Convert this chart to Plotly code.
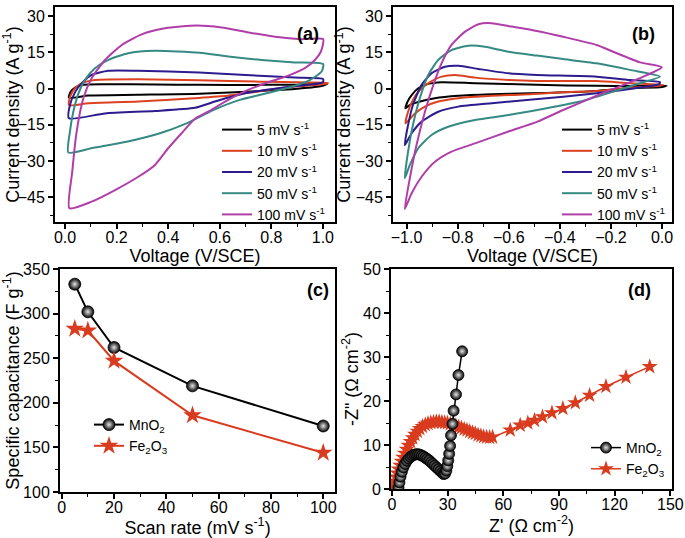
import plotly.graph_objects as go

W, H = 685, 538
FONT = "Liberation Sans, Arial, sans-serif"

# ── Panel (a): MnO2 CV loops (V vs SCE, A/g) ────────────────────────────────
a_v_5 = [0.015, 0.022, 0.039, 0.065, 0.155, 0.35, 0.52, 0.76, 0.90, 1.016,
         0.99, 0.89, 0.76, 0.52, 0.28, 0.09, 0.015]
a_i_5 = [-3.8, -1.3, 0.4, 1.5, 1.8, 1.7, 1.5, 1.5, 1.6, 1.8,
         0.9, -0.2, -1.0, -2.2, -2.6, -2.9, -3.8]

a_v_10 = [0.015, 0.022, 0.039, 0.065, 0.116, 0.284, 0.52, 0.76, 0.95, 1.02,
          0.99, 0.89, 0.76, 0.63, 0.50, 0.284, 0.09, 0.015]
a_i_10 = [-6.8, -2.7, 0.1, 2.2, 3.5, 3.8, 3.4, 2.8, 2.5, 2.3,
          1.6, 0.8, -1.0, -3.0, -4.0, -5.4, -6.1, -6.8]

a_v_20 = [0.015, 0.019, 0.039, 0.065, 0.103, 0.168, 0.284, 0.52, 0.70, 0.89, 1.001,
          1.0, 0.943, 0.827, 0.698, 0.581, 0.504, 0.349, 0.155, 0.015]
a_i_20 = [-12.3, -6.8, -1.5, 2.2, 5.6, 7.3, 7.3, 6.6, 5.6, 4.5, 3.9,
          2.6, 1.5, 0.1, -2.0, -5.4, -8.0, -9.3, -10.3, -12.3]

a_v_50 = [0.013, 0.019, 0.032, 0.052, 0.077, 0.116, 0.168, 0.245, 0.349, 0.523,
          0.633, 0.762, 0.891, 1.001, 0.995, 0.949, 0.872, 0.782, 0.678, 0.575,
          0.471, 0.368, 0.239, 0.11, 0.013]
a_i_50 = [-26.5, -17.8, -9.6, -2.0, 3.5, 8.4, 11.8, 14.6, 15.6, 14.8,
          13.2, 11.8, 10.8, 10.1, 7.0, 3.5, 0.5, -2.0, -4.7, -8.9,
          -14.4, -18.5, -22.0, -24.5, -26.5]

a_v_100 = [0.017, 0.028, 0.045, 0.071, 0.103, 0.155, 0.22, 0.297, 0.388, 0.51,
           0.607, 0.711, 0.814, 0.917, 1.001, 0.992, 0.969, 0.93, 0.866, 0.788,
           0.71, 0.633, 0.555, 0.504, 0.452, 0.40, 0.349, 0.284, 0.194, 0.103, 0.017]
a_i_100 = [-49.5, -34.4, -17.8, -4.0, 4.2, 11.8, 18.0, 22.4, 24.9, 26.0,
           25.2, 23.2, 21.4, 20.4, 20.4, 15.2, 11.8, 8.4, 5.3, 2.6,
           -0.6, -4.7, -9.6, -12.5, -18.5, -24.7, -31.6, -36.5, -42.0, -46.8, -49.5]

# ── Panel (b): Fe2O3 CV loops ───────────────────────────────────────────────
b_v_5 = [-1.004, -0.996, -0.98, -0.954, -0.915, -0.863, -0.732, -0.49, -0.256, -0.1, 0.018,
         0.0, -0.126, -0.256, -0.387, -0.518, -0.667, -0.797, -0.889, -0.954, -0.987, -1.004]
b_i_5 = [-8.2, -5.4, -2.7, 0.1, 1.9, 2.6, 2.2, 1.5, 1.1, 1.0, 1.2,
         0.6, 0.1, -1.0, -1.6, -2.0, -2.4, -3.0, -4.0, -5.6, -6.8, -8.2]

b_v_10 = [-1.004, -0.994, -0.975, -0.948, -0.908, -0.863, -0.81, -0.732, -0.601, -0.49,
          -0.256, -0.126, 0.005, -0.01, -0.126, -0.256, -0.387, -0.518, -0.667, -0.797,
          -0.876, -0.928, -0.967, -1.004]
b_i_10 = [-14.4, -9.6, -4.7, -0.6, 2.6, 4.9, 5.6, 4.5, 3.5, 3.1,
          3.1, 2.2, 1.5, 1.1, 0.3, -1.0, -1.6, -2.4, -3.0, -4.0,
          -5.4, -7.5, -10.3, -14.4]

b_v_20 = [-1.007, -0.994, -0.975, -0.941, -0.902, -0.85, -0.797, -0.719, -0.601, -0.49,
          -0.256, -0.126, -0.008, -0.012, -0.126, -0.256, -0.387, -0.518, -0.667, -0.797,
          -0.876, -0.941, -0.98, -1.007]
b_i_20 = [-23.4, -15.1, -6.8, 1.5, 6.3, 9.0, 9.4, 8.1, 6.3, 5.6,
          4.9, 3.5, 2.6, 1.8, -0.2, -2.0, -3.4, -4.7, -6.1, -7.5,
          -9.6, -13.7, -18.5, -23.4]

b_v_50 = [-1.007, -0.994, -0.975, -0.948, -0.915, -0.876, -0.824, -0.758, -0.693, -0.601,
          -0.49, -0.387, -0.256, -0.126, -0.008, -0.086, -0.191, -0.321, -0.452, -0.601,
          -0.732, -0.837, -0.902, -0.954, -0.987, -1.007]
b_i_50 = [-37.1, -26.1, -15.1, -4.0, 5.6, 11.8, 15.9, 17.7, 17.3, 15.2,
          13.6, 12.2, 10.4, 7.7, 4.9, 2.2, -1.3, -5.4, -8.2, -11.0,
          -13.0, -15.8, -19.2, -24.7, -31.6, -37.1]

b_v_100 = [-1.007, -0.987, -0.961, -0.928, -0.895, -0.863, -0.824, -0.771, -0.719, -0.667,
           -0.588, -0.49, -0.387, -0.256, -0.191, -0.086, -0.001, -0.073, -0.151, -0.256,
           -0.387, -0.49, -0.601, -0.732, -0.824, -0.889, -0.941, -0.98, -1.007]
b_i_100 = [-49.8, -37.1, -23.4, -9.6, 1.5, 10.4, 18.0, 23.5, 26.6, 27.0,
           25.6, 23.8, 21.4, 18.0, 15.2, 10.8, 8.8, 4.9, 1.5, -3.0,
           -8.9, -13.8, -17.8, -22.7, -26.1, -30.3, -36.5, -43.3, -49.8]

# ── Panel (c): specific capacitance vs scan rate ────────────────────────────
scan_rate = [5, 10, 20, 50, 100]
cap_mno2 = [333, 302, 262, 219, 174]
cap_fe2o3 = [283, 281, 247, 186, 144]

# ── Panel (d): Nyquist plots ────────────────────────────────────────────────
z_re_mno2 = [3.5, 4.0, 4.6, 5.3, 6.1, 7.0, 8.0, 9.0, 10.0, 11.0, 12.0, 13.0, 14.0,
             15.0, 16.0, 17.0, 18.0, 19.0, 20.0, 21.0, 22.0, 23.0, 24.0, 25.0,
             26.0, 27.0, 27.8, 28.6, 29.3, 29.8, 30.3, 30.8, 31.3, 31.8, 32.6,
             33.2, 34.5, 35.8, 37.8]
z_im_mno2 = [0.3, 1.5, 2.8, 3.9, 4.9, 5.7, 6.4, 6.9, 7.3, 7.6, 7.8, 7.9, 7.9,
             7.8, 7.6, 7.4, 7.1, 6.8, 6.5, 6.1, 5.7, 5.3, 4.9, 4.5,
             4.1, 3.7, 3.4, 3.5, 4.2, 5.2, 6.5, 8.0, 9.8, 12.2, 14.8,
             17.8, 21.5, 25.9, 31.3]

z_re_fe2o3 = [0.5, 1.0, 1.6, 2.2, 2.9, 3.6, 4.4, 5.2, 6.0, 6.9, 7.9, 8.9, 10.0,
              11.2, 12.4, 13.7, 15.0, 16.4, 17.9, 19.4, 20.9, 22.4, 23.9, 25.4,
              26.9, 28.4, 29.9, 31.4, 32.9, 34.4, 35.9, 37.4, 38.9, 40.4, 41.9,
              43.4, 44.9, 46.4, 47.9, 49.4, 51.0, 52.6, 54.2, 63.7, 69.1, 73.2,
              76.8, 81.1, 86.2, 92.1, 98.8, 106.5, 115.3, 126.1, 138.9]
z_im_fe2o3 = [0.3, 1.0, 1.8, 2.7, 3.6, 4.5, 5.4, 6.3, 7.2, 8.1, 9.0, 9.9, 10.8,
              11.6, 12.4, 13.1, 13.7, 14.2, 14.6, 14.9, 15.1, 15.2, 15.3, 15.3,
              15.2, 15.1, 15.0, 14.8, 14.6, 14.4, 14.1, 13.9, 13.6, 13.4, 13.1,
              12.8, 12.6, 12.3, 12.1, 11.9, 11.8, 11.7, 11.8, 13.4, 14.5, 15.0,
              15.6, 16.4, 17.3, 18.3, 19.6, 21.3, 23.3, 25.4, 27.8]

rate_labels = ['5', '10', '20', '50', '100']
rate_colors = ['#000000', '#dc4120', '#2d1c8e', '#368a83', '#b03ea8']
RED = '#d93b1e'

fig = go.Figure()

cv_a = [(a_v_5, a_i_5), (a_v_10, a_i_10), (a_v_20, a_i_20), (a_v_50, a_i_50), (a_v_100, a_i_100)]
cv_b = [(b_v_5, b_i_5), (b_v_10, b_i_10), (b_v_20, b_i_20), (b_v_50, b_i_50), (b_v_100, b_i_100)]

for k, (lab, col) in enumerate(zip(rate_labels, rate_colors)):
    for (v, i), xa, ya, lg in [(cv_a[k], 'x', 'y', 'legend'), (cv_b[k], 'x2', 'y2', 'legend2')]:
        fig.add_trace(go.Scatter(
            x=v, y=i, mode='lines', xaxis=xa, yaxis=ya,
            line=dict(color=col, width=2, shape='spline', smoothing=0.6),
            name=f'{lab} mV s<sup>-1</sup>', legend=lg, legendgroup=f'{lg}{lab}'))

sphere = dict(symbol='circle', color='black',
              gradient=dict(type='radial', color='#e6e6e6'),
              line=dict(color='black', width=0.8))

fig.add_trace(go.Scatter(x=scan_rate, y=cap_mno2, mode='lines+markers', xaxis='x3', yaxis='y3',
                         line=dict(color='black', width=2), marker=dict(size=12, **sphere),
                         name='MnO<sub>2</sub>', legend='legend3', legendgroup='c1'))
fig.add_trace(go.Scatter(x=scan_rate, y=cap_fe2o3, mode='lines+markers', xaxis='x3', yaxis='y3',
                         line=dict(color=RED, width=2),
                         marker=dict(symbol='star', size=14, color=RED, line=dict(width=0)),
                         name='Fe<sub>2</sub>O<sub>3</sub>', legend='legend3', legendgroup='c2'))

fig.add_trace(go.Scatter(x=z_re_fe2o3, y=z_im_fe2o3, mode='lines+markers', xaxis='x4', yaxis='y4',
                         line=dict(color=RED, width=1.5),
                         marker=dict(symbol='star', size=12, color=RED, line=dict(width=0)),
                         name='Fe<sub>2</sub>O<sub>3</sub>', legend='legend4', legendgroup='d2',
                         legendrank=2))
fig.add_trace(go.Scatter(x=z_re_mno2, y=z_im_mno2, mode='lines+markers', xaxis='x4', yaxis='y4',
                         line=dict(color='black', width=1.5), marker=dict(size=11, **sphere),
                         name='MnO<sub>2</sub>', legend='legend4', legendgroup='d1',
                         legendrank=1))


def axis(domain, rng, dtick, minor, anchor, title, fmt=None, standoff=3, lab_off=0):
    d = dict(domain=domain, range=rng, dtick=dtick, anchor=anchor,
             showline=True, linecolor='black', linewidth=2, mirror=True,
             ticks='outside', ticklen=5, tickwidth=1.5, tickcolor='black',
             showgrid=False, zeroline=False, ticklabelstandoff=lab_off,
             tickfont=dict(size=16, color='black', family=FONT),
             title=dict(text=title, font=dict(size=18, color='black', family=FONT), standoff=standoff),
             minor=dict(ticks='outside', ticklen=3, tickwidth=1.2, tickcolor='black', dtick=minor))
    if fmt:
        d['tickformat'] = fmt
    return d


def px_x(a, b):
    return [a / W, b / W]


def px_y(top, bot):
    return [1 - bot / H, 1 - top / H]


fig.update_layout(
    width=W, height=H, margin=dict(l=0, r=0, t=0, b=0, autoexpand=False),
    paper_bgcolor='white', plot_bgcolor='white',
    font=dict(family=FONT, color='black'),
    xaxis=axis(px_x(55, 335), [-0.039, 1.047], 0.2, 0.1, 'y', 'Voltage (V/SCE)', '.1f', lab_off=-5),
    yaxis=axis(px_y(7, 222), [-55.2, 33.7], 15, 7.5, 'x', 'Current density (A g<sup>-1</sup>)'),
    xaxis2=axis(px_x(393, 672), [-1.053, 0.039], 0.2, 0.1, 'y2', 'Voltage (V/SCE)', '.1f', lab_off=-5),
    yaxis2=axis(px_y(7, 222), [-55.2, 33.7], 15, 7.5, 'x2', 'Current density (A g<sup>-1</sup>)',
                standoff=0),
    xaxis3=axis(px_x(60, 335), [-0.65, 104.5], 20, 10, 'y3', 'Scan rate (mV s<sup>-1</sup>)', lab_off=-5),
    yaxis3=axis(px_y(269, 492), [100, 350], 50, 25, 'x3', 'Specific capacitance (F g<sup>-1</sup>)'),
    xaxis4=axis(px_x(391, 672), [-0.54, 150.9], 30, 15, 'y4', "Z' (Ω cm<sup>-2</sup>)", lab_off=-5),
    yaxis4=axis(px_y(269, 489), [0, 50], 10, 5, 'x4', '-Z" (Ω cm<sup>-2</sup>)', standoff=0),
)

leg = dict(bgcolor='rgba(0,0,0,0)', borderwidth=0, xanchor='left', yanchor='top',
           font=dict(size=14, color='black', family=FONT), itemwidth=30, tracegroupgap=0)
fig.update_layout(
    legend=dict(x=217 / W, y=1 - 114 / H, **leg),
    legend2=dict(x=557 / W, y=1 - 114 / H, **leg),
    legend3=dict(x=89 / W, y=1 - 409 / H, **leg),
    legend4=dict(x=586 / W, y=1 - 432 / H, **leg),
)

for txt, cx, cy in [('(a)', 308, 22), ('(b)', 657, 22), ('(c)', 318, 290), ('(d)', 653, 290)]:
    fig.add_annotation(text=f'<b>{txt}</b>', x=cx / W, y=1 - cy / H, xref='paper', yref='paper',
                       showarrow=False, font=dict(size=18, color='black', family=FONT))

fig.write_html("out.html", config={'displayModeBar': False},
               post_script="document.body.style.margin='0';")
